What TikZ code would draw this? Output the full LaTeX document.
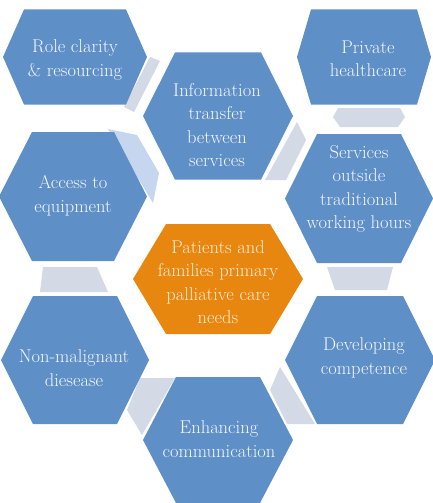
\documentclass[tikz,border=0pt]{standalone}
\usepackage{fontspec}
\definecolor{hexblue}{HTML}{5E8FC7}
\definecolor{hexorange}{HTML}{E8870F}
\definecolor{linkgray}{HTML}{D3DAE5}
\definecolor{linkblue}{HTML}{C5D6EE}
\definecolor{bluetext}{HTML}{F3F6FB}
\definecolor{orangetext}{HTML}{FDEBD3}
% hexagon with pointed left/right ends: style, cx, cy, half width, half height, half top edge
\newcommand{\hexcell}[6]{%
  \fill[#1] ({#2-#4},#3) -- ({#2-#6},{#3-#5}) -- ({#2+#6},{#3-#5}) --
    ({#2+#4},#3) -- ({#2+#6},{#3+#5}) -- ({#2-#6},{#3+#5}) -- cycle;}
\begin{document}
\begin{tikzpicture}[x=1pt,y=-1pt,
  celltext/.style={align=center, text=bluetext, inner sep=0pt,
    font=\fontsize{18.5}{23.5}\selectfont\addfontfeatures{FakeBold=0.5}},
  hubtext/.style={celltext, text=orangetext},
  link/.style={fill=linkgray},
  linklight/.style={fill=linkblue}]
\useasboundingbox (0,0) rectangle (433,503);
\clip (0,0) rectangle (433,503);

% links between neighbouring cells
\fill[link] (150,57) -- (160,61) -- (134,112) -- (124,107) -- cycle;
\fill[link] (338,108) -- (400,108) -- (405,117) -- (398,127) -- (340,127) -- (333,117) -- cycle;
\fill[link] (297,122) -- (306,140) -- (286,180) -- (265,180) -- cycle;
\fill[linklight] (108,129) -- (137,135) -- (159,173) -- (153,203) -- cycle;
\fill[link] (43,267) -- (97,267) -- (108,292) -- (40,292) -- cycle;
\fill[link] (327,267) -- (393,267) -- (387,290) -- (335,290) -- cycle;
\fill[link] (140,378) -- (175,378) -- (142,435) -- (127,410) -- cycle;
\fill[link] (280,367) -- (315,424) -- (287,424) -- (270,390) -- cycle;

% cells
\hexcell{hexblue}{75}{57}{72}{47.5}{51}
\hexcell{hexblue}{364}{57}{67}{47.5}{53}
\hexcell{hexblue}{218}{116}{75}{63.5}{43}
\hexcell{hexblue}{73}{196.5}{74}{64.5}{41}
\hexcell{hexblue}{359}{198.5}{74}{64.5}{42}
\hexcell{hexorange}{218}{279}{85}{55}{52}
\hexcell{hexblue}{75}{360}{74}{64}{42}
\hexcell{hexblue}{360}{360}{75}{64}{43}
\hexcell{hexblue}{218}{440}{75}{63}{42}

% labels
\node[celltext] (role) at (75,60) {Role clarity\\\&\ resourcing};
\node[celltext] (private) at (368,59) {Private\\healthcare};
\node[celltext] (info) at (217,125) {Information\\transfer\\between\\services};
\node[celltext] (access) at (73,196) {Access to\\equipment};
\node[celltext] (outside) at (359,189) {Services\\outside\\traditional\\working hours};
\node[hubtext] (hub) at (218,282) {Patients and\\families primary\\palliative care\\needs};
\node[celltext] (nonmal) at (74,368) {Non-malignant\\diesease};
\node[celltext] (develop) at (364,358) {Developing\\competence};
\node[celltext] (enhance) at (219,439) {Enhancing\\communication};
\end{tikzpicture}
\end{document}
